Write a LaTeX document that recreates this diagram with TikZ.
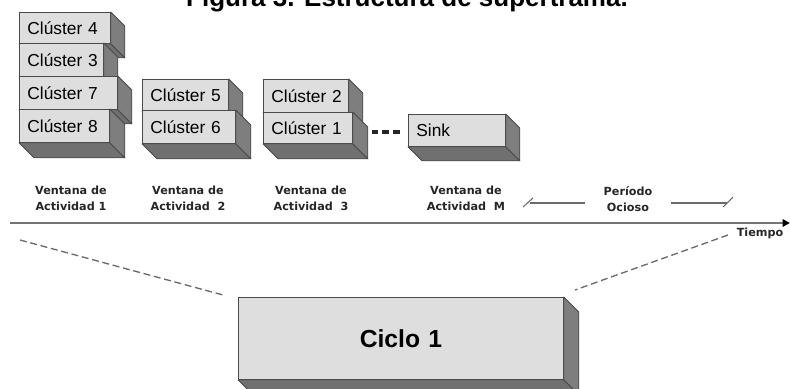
\documentclass[tikz,border=0pt]{standalone}
\usepackage{fontspec}
\setmainfont{Liberation Sans}
\newfontfamily\lblfont{DejaVu Sans}
\usetikzlibrary{arrows.meta}

\definecolor{frontgray}{HTML}{DEDEDE}
\definecolor{sidegray}{HTML}{7E7E7E}
\definecolor{bottomgray}{HTML}{707070}
\definecolor{edgegray}{HTML}{4A4A4A}
\definecolor{linegray}{HTML}{6A6A6A}

\tikzset{
  slab/.style={draw=edgegray, line width=0.6pt, fill=frontgray, inner xsep=6pt,
    inner ysep=0pt, align=left, anchor=north west,
    font=\fontsize{13}{15}\selectfont},
  sideface/.style={draw=edgegray, line width=0.6pt, fill=sidegray, line join=round},
  bottomface/.style={draw=edgegray, line width=0.6pt, fill=bottomgray, line join=round},
  winlabel/.style={align=center, font=\lblfont\bfseries\fontsize{8.4}{12}\selectfont,
    text=black!85},
  guide/.style={draw=linegray, line width=1pt, dash pattern=on 5.2pt off 2.8pt},
  barb/.style={draw=linegray, line width=0.8pt},
}

% #2 name, #3..#6 front face corners (x1,y1,x2,y2), #7 depth, #8 text
\newcommand\slab[8][]{%
  \node[slab, text width={(#5-#3-16)*0.75pt}, minimum height={(#6-#4)*0.75pt}, #1]
    (#2) at (#3,#4) {#8};
  \path[bottomface] (#2.south west) -- ++(#7,#7) -- ([shift={(#7,#7)}]#2.south east)
    -- (#2.south east) -- cycle;
  \path[sideface] (#2.north east) -- ++(#7,#7) -- ([shift={(#7,#7)}]#2.south east)
    -- (#2.south east) -- cycle;
}

\begin{document}
\begin{tikzpicture}[x=0.75pt, y=-0.75pt]
\useasboundingbox (0,0) rectangle (790,389);

% caption
\node[font=\bfseries\fontsize{19.5}{22}\selectfont, anchor=base] (title) at (407,7)
  {Figura 3. Estructura de supertrama.};

% activity window 1
\slab{c4}{19}{12}{110}{43}{14}{Clúster~4}
\slab{c3}{19}{43}{103}{76}{14}{Clúster~3}
\slab{c7}{19}{76}{117}{109}{14}{Clúster~7}
\slab{c8}{19}{109}{109}{142}{15}{Clúster~8}

% activity window 2
\slab{c5}{142}{79}{228}{110}{14}{Clúster~5}
\slab{c6}{142}{110}{235}{143}{15}{Clúster~6}

% activity window 3
\slab{c2}{263}{79}{348}{112}{14}{Clúster~2}
\slab{c1}{263}{112}{352}{143}{15}{Clúster~1}

% activity window M
\slab{sink}{408}{114}{505}{146}{14}{Sink}

% ellipsis between windows
\coordinate (dotsA) at (371.5,132);
\coordinate (dotsB) at (400,132);
\draw[line width=2.6pt, color=black!85, dash pattern=on 5pt off 3.1pt] (dotsA) -- (dotsB);

% window labels
\node[winlabel] (w1) at (71,198) {Ventana de\\Actividad 1};
\node[winlabel] (w2) at (188,198) {Ventana de\\Actividad\ \ 2};
\node[winlabel] (w3) at (311,198) {Ventana de\\Actividad\ \ 3};
\node[winlabel] (wm) at (466,198) {Ventana de\\Actividad\ \ M};
\node[winlabel] (idle) at (628,199) {Período\\Ocioso};

% idle period span
\coordinate (idleL) at (530,203);
\coordinate (idleR) at (727,203);
\draw[barb] (idle.west) ++(-14,4) -- (idleL);
\draw[barb] (523,207) -- (533,198);
\draw[barb] (idle.east) ++(14,4) -- (idleR);
\draw[barb] (723,207) -- (733,197);

% time axis
\coordinate (t0) at (10,223);
\coordinate (t1) at (790,223);
\draw[draw=black!55, line width=1.5pt,
  -{Triangle[length=5.5pt, width=5.5pt, fill=black, color=black]}] (t0) -- (t1);
\node[winlabel, anchor=center] (tiempo) at (760,233) {Tiempo};

% cycle block
\slab[align=center, font=\bfseries\fontsize{18.5}{20}\selectfont]{ciclo}{238}{297}{563}{379}{15}{Ciclo 1}

% zoom guides
\coordinate (gL0) at (20,240);
\coordinate (gL1) at (223,295);
\coordinate (gR0) at (728,235);
\coordinate (gR1) at (575,290);
\draw[guide] (gL0) -- (gL1);
\draw[guide] (gR0) -- (gR1);
\end{tikzpicture}
\end{document}
